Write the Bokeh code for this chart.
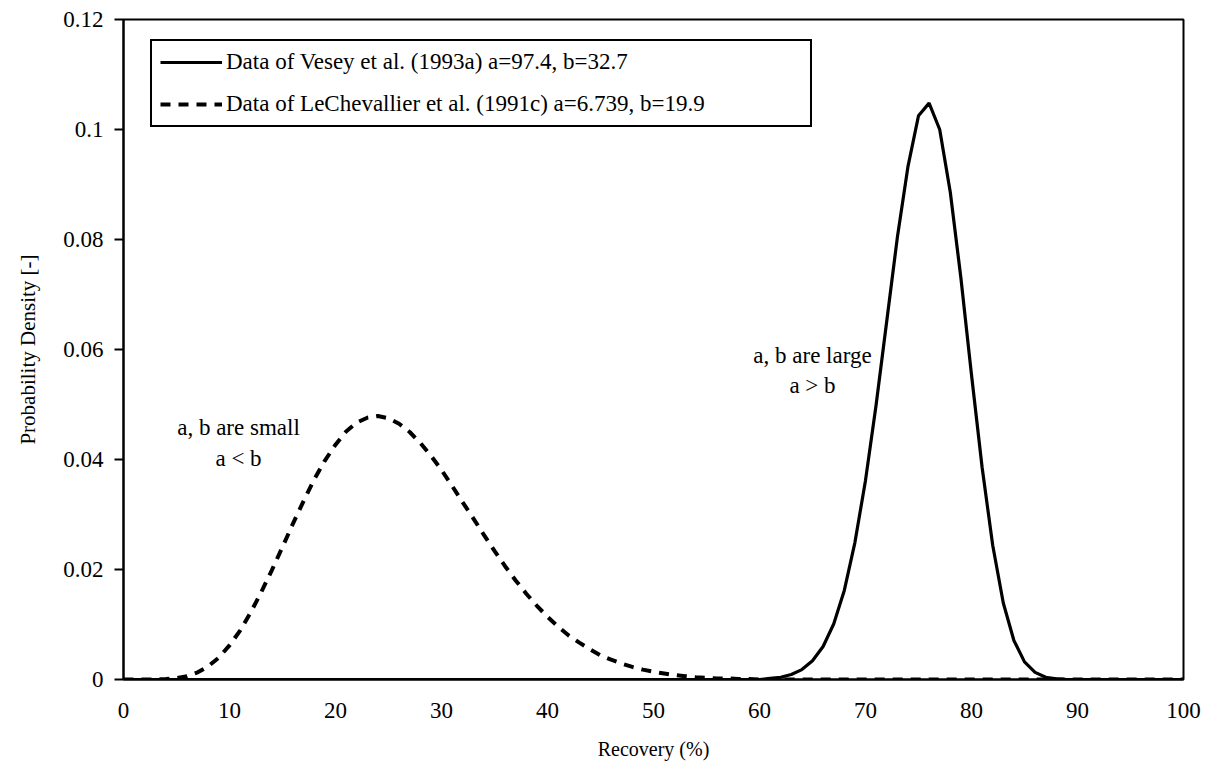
from bokeh.plotting import figure
from bokeh.models import (Range1d, FixedTicker, CustomJSTickFormatter, Legend,
                          LegendItem, Label)
from bokeh.embed import file_html
from bokeh.resources import INLINE

# ---- data ----
recovery = list(range(0, 101))

vesey_density = (
    [0.0] * 61 +
    [0.0002, 0.0004, 0.0009, 0.0018, 0.0034, 0.0060, 0.0101, 0.0162, 0.0249,   # 61-69
     0.0362, 0.0499, 0.0651, 0.0803, 0.0932, 0.1025, 0.1048, 0.1000, 0.0886,   # 70-78
     0.0730, 0.0554, 0.0386, 0.0244, 0.0139, 0.0071, 0.0032, 0.0013, 0.0004,   # 79-87
     0.0001] +                                                                  # 88
    [0.0] * 12
)

lechevallier_density = (
    [0.0, 0.0, 0.0, 0.0,                                                        # 0-3
     0.00007, 0.00024, 0.0006, 0.0013, 0.0024, 0.0040, 0.0062, 0.0089, 0.0122, # 4-12
     0.0159, 0.0199, 0.0241, 0.0284, 0.0325, 0.0364, 0.0398, 0.0427, 0.0451,   # 13-21
     0.0467, 0.0476, 0.0479, 0.0475, 0.0465, 0.0450, 0.0430, 0.0407, 0.0381,   # 22-30
     0.0352, 0.0322, 0.0293, 0.0263, 0.0234, 0.0206, 0.0180, 0.0156, 0.0134,   # 31-39
     0.0114, 0.0096, 0.0080, 0.0067, 0.0055, 0.0044, 0.0036, 0.0029, 0.0023,   # 40-48
     0.0018, 0.0014, 0.0011, 0.0008, 0.0006, 0.0004, 0.0003, 0.0002, 0.0002,   # 49-57
     0.0001, 0.0001] +                                                          # 58-59
    [0.0] * 41
)

x_ticks = [0, 10, 20, 30, 40, 50, 60, 70, 80, 90, 100]
y_ticks = [0, 0.02, 0.04, 0.06, 0.08, 0.1, 0.12]

series_labels = ["Data of Vesey et al. (1993a) a=97.4, b=32.7",
                 "Data of LeChevallier et al. (1991c) a=6.739, b=19.9"]

FONT = "Liberation Serif"

p = figure(width=1210, height=772, output_backend="svg", toolbar_location=None,
           x_range=Range1d(0, 100), y_range=Range1d(0, 0.12),
           min_border_left=123, min_border_right=27, min_border_top=19,
           min_border_bottom=93)

p.xgrid.visible = False
p.ygrid.visible = False
p.outline_line_color = "black"
p.outline_line_width = 2
p.outline_line_alpha = 1
p.background_fill_color = "white"
p.border_fill_color = "white"

r1 = p.line(recovery, vesey_density, line_color="black", line_width=3.2)
r2 = p.line(recovery, lechevallier_density, line_color="black", line_width=4,
            line_dash="10 8")

# axes
p.xaxis.ticker = FixedTicker(ticks=x_ticks)
p.yaxis.ticker = FixedTicker(ticks=y_ticks)
p.yaxis.formatter = CustomJSTickFormatter(code="return Number(tick.toFixed(2)).toString();")
for ax in (p.xaxis[0], p.yaxis[0]):
    ax.axis_line_color = "black"
    ax.axis_line_width = 2
    ax.major_tick_line_color = "black"
    ax.major_tick_line_width = 2
    ax.minor_tick_line_color = None
    ax.major_label_text_font = FONT
    ax.major_label_text_font_size = "23px"
    ax.major_label_text_color = "black"
    ax.axis_label_text_font = FONT
    ax.axis_label_text_font_style = "normal"
    ax.axis_label_text_font_size = "20px"
    ax.axis_label_text_color = "black"

p.xaxis.major_tick_out = 0
p.xaxis.major_tick_in = 0
p.xaxis.major_label_standoff = 23
p.xaxis.axis_label = "Recovery (%)"
p.xaxis.axis_label_standoff = 17

p.yaxis.major_tick_out = 9
p.yaxis.major_tick_in = 0
p.yaxis.major_label_standoff = 11
p.yaxis.axis_label = "Probability Density [-]"
p.yaxis.axis_label_text_font_size = "21px"
p.yaxis.axis_label_standoff = 20

legend = Legend(items=[LegendItem(label=series_labels[0], renderers=[r1]),
                       LegendItem(label=series_labels[1], renderers=[r2])],
                location=(27, 552), orientation="vertical")
legend.border_line_color = "black"
legend.border_line_width = 2
legend.border_line_alpha = 1
legend.background_fill_color = "white"
legend.background_fill_alpha = 1
legend.label_text_font = FONT
legend.label_text_font_size = "23px"
legend.label_text_color = "black"
legend.glyph_width = 62
legend.glyph_height = 26
legend.label_height = 26
legend.label_standoff = 4
legend.spacing = 16
legend.padding = 8
legend.margin = 0
legend.label_width = 576
p.add_layout(legend, "center")

ann_font = dict(text_font=FONT, text_font_size="23px", text_color="black",
                text_align="center", text_baseline="middle")
p.add_layout(Label(x=10.85, y=0.0458, text="a, b are small", **ann_font))
p.add_layout(Label(x=10.85, y=0.0402, text="a < b", **ann_font))
p.add_layout(Label(x=65.0, y=0.0590, text="a, b are large", **ann_font))
p.add_layout(Label(x=65.0, y=0.0534, text="a > b", **ann_font))

open("out.html", "w").write(file_html(p, INLINE))
